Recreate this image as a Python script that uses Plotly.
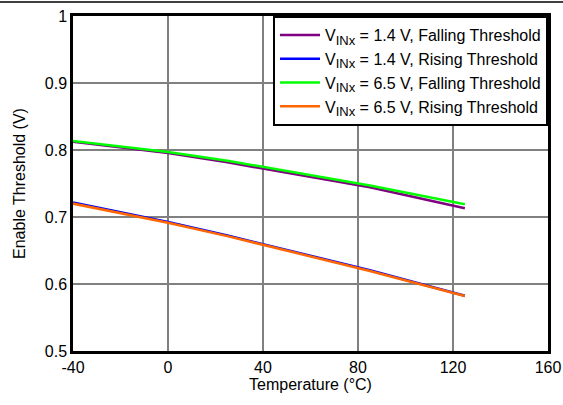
import plotly.graph_objects as go

temps = [-40, 0, 25, 85, 125]
fall_14 = [0.8125, 0.7955, 0.7815, 0.7445, 0.713]
rise_14 = [0.7215, 0.6925, 0.6725, 0.6205, 0.5825]
fall_65 = [0.8135, 0.797, 0.784, 0.747, 0.719]
rise_65 = [0.720, 0.6915, 0.6715, 0.6195, 0.582]

x_ticks = [-40, 0, 40, 80, 120, 160]
x_ticktext = ["-40", "0", "40", "80", "120", "160"]
y_ticks = [0.5, 0.6, 0.7, 0.8, 0.9, 1]
y_ticktext = ["0.5", "0.6", "0.7", "0.8", "0.9", "1"]

SUB = "<sub><span style='font-size:13px'>INx</span></sub>"
names = ["V" + SUB + " = 1.4 V, Falling Threshold",
         "V" + SUB + " = 1.4 V, Rising Threshold",
         "V" + SUB + " = 6.5 V, Falling Threshold",
         "V" + SUB + " = 6.5 V, Rising Threshold"]
colors = ["#800080", "#0000FF", "#00FF00", "#FF6600"]
series = [fall_14, rise_14, fall_65, rise_65]

W, H = 563, 405
ml, mr, mt, mb = 73, 15, 16, 54
FONT = "Liberation Sans, Arial, sans-serif"

fig = go.Figure()
for n, c, s in zip(names, colors, series):
    fig.add_trace(go.Scatter(x=temps, y=s, mode="lines", name=n,
                             line=dict(color=c, width=2.5)))

pw = W - ml - mr
ph = H - mt - mb
fig.add_shape(type="line", xref="paper", yref="paper",
              x0=-ml / pw, x1=(W - ml) / pw,
              y0=(H - mb - 2) / ph, y1=(H - mb - 2) / ph,
              line=dict(color="black", width=1.5))

axis_common = dict(showgrid=True, gridcolor="#808080", gridwidth=1.5,
                   showline=True, linecolor="black", linewidth=2.5, mirror=True,
                   ticks="", zeroline=False, automargin=False,
                   tickfont=dict(family=FONT, size=16, color="black"))
fig.update_xaxes(range=[-40, 160], tickvals=x_ticks, ticktext=x_ticktext,
                 title=dict(text="Temperature (°C)", standoff=0,
                            font=dict(family=FONT, size=16, color="black")),
                 **axis_common)
fig.update_yaxes(range=[0.5, 1], tickvals=y_ticks, ticktext=y_ticktext,
                 title=dict(text="Enable Threshold (V)", standoff=16,
                            font=dict(family=FONT, size=16, color="black")),
                 **axis_common)
fig.update_layout(
    width=W, height=H,
    margin=dict(l=ml, r=mr, t=mt, b=mb, autoexpand=False),
    plot_bgcolor="white", paper_bgcolor="white",
    font=dict(family=FONT, size=16, color="black"),
    legend=dict(x=1, y=1, xanchor="right", yanchor="top",
                bgcolor="white", bordercolor="black", borderwidth=2,
                font=dict(family=FONT, size=16, color="black"),
                tracegroupgap=0, itemwidth=40),
    showlegend=True,
)
fig.write_html("out.html", config={"displayModeBar": False},
               post_script="document.body.style.margin='0';")
